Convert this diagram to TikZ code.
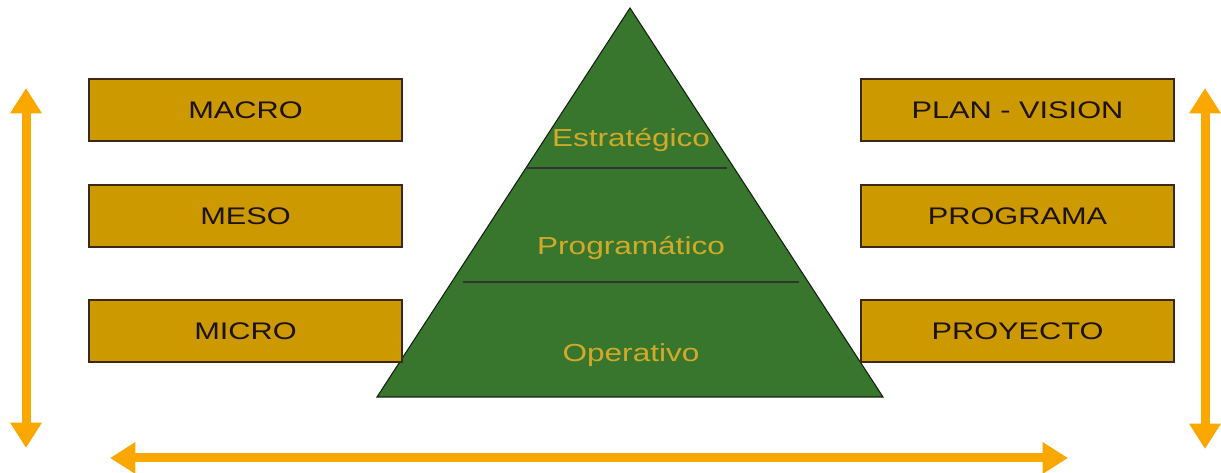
\documentclass[tikz,border=0pt]{standalone}
\usepackage{fontspec}
\setmainfont{Liberation Sans}
\usepackage{graphicx}
\usetikzlibrary{arrows.meta}
\definecolor{ochre}{RGB}{204,153,0}
\definecolor{boxline}{RGB}{60,40,20}
\definecolor{pine}{RGB}{56,118,46}
\definecolor{gold}{RGB}{210,170,40}
\definecolor{amber}{RGB}{250,168,0}
\newcommand{\wtxt}[1]{\scalebox{1.28}[1]{#1}}

\begin{document}
\begin{tikzpicture}[x=0.75pt, y=-0.75pt,
  box/.style={rectangle, draw=boxline, line width=1pt, fill=ochre, minimum width=234.75pt, minimum height=46.5pt, inner sep=0pt, text=black!85!brown, font=\fontsize{18}{20}\selectfont},
  level/.style={anchor=base, text=gold, font=\fontsize{18.5}{20}\selectfont},
  arrow/.style={{Triangle[width=22.5pt,length=19pt]}-{Triangle[width=22.5pt,length=19pt]}, amber, line width=6.75pt}
]
\useasboundingbox (0,0) rectangle (1221,473);

\fill[pine, draw=black!70!pine, line width=0.8pt] (630,8) coordinate (top) -- (883,397) coordinate (br) -- (377,397) coordinate (bl) -- cycle;
\draw[black!80, line width=1pt] (527,168) -- (727,168);
\draw[black!80, line width=1pt] (463,282) -- (799,282);
\node[level] (estr) at (631,147) {\wtxt{Estratégico}};
\node[level] (prog) at (631,255) {\wtxt{Programático}};
\node[level] (oper) at (631,362) {\wtxt{Operativo}};

\node[box] (macro) at (245.5,110) {\wtxt{MACRO}};
\node[box] (meso) at (245.5,216) {\wtxt{MESO}};
\node[box] (micro) at (245.5,331) {\wtxt{MICRO}};
\node[box] (plan) at (1017.5,110) {\wtxt{PLAN - VISION}};
\node[box] (programa) at (1017.5,216) {\wtxt{PROGRAMA}};
\node[box] (proyecto) at (1017.5,331) {\wtxt{PROYECTO}};

\coordinate (lt) at (26,88);
\coordinate (lb) at (26,448);
\coordinate (rt) at (1205,88);
\coordinate (rb) at (1205,449);
\coordinate (hl) at (110,458);
\coordinate (hr) at (1068,458);
\draw[arrow] (lt) -- (lb);
\draw[arrow] (rt) -- (rb);
\draw[arrow] (hl) -- (hr);
\end{tikzpicture}
\end{document}
